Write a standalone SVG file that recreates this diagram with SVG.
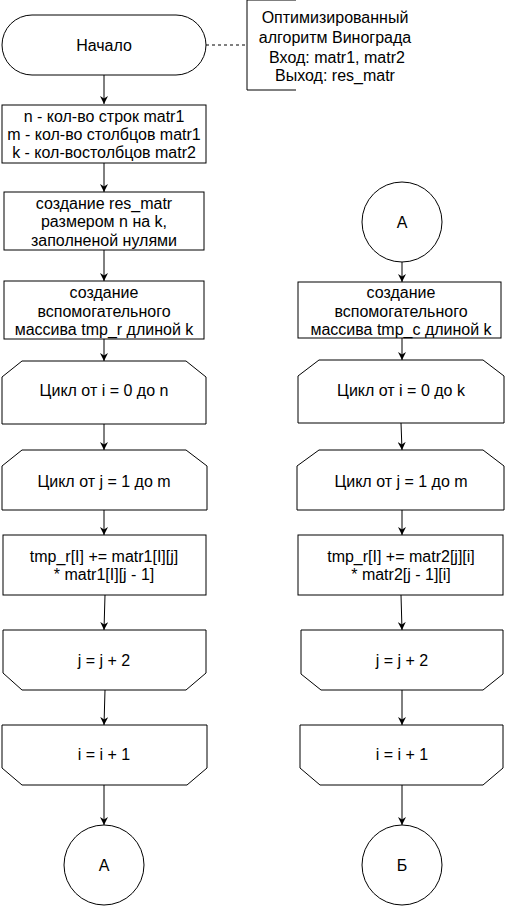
<svg xmlns="http://www.w3.org/2000/svg" width="507" height="906" viewBox="0 0 507 906">
<style>
.s{fill:#fff;stroke:#000;stroke-width:1}
.t{font-family:"Liberation Sans",Arial,sans-serif;font-size:16px;fill:#000;text-anchor:middle;dominant-baseline:central}
.c{fill:none;stroke:#000;stroke-width:1}
</style>
<defs>
<marker id="a" viewBox="0 0 10 10" refX="10" refY="5" markerWidth="8" markerHeight="8" markerUnits="userSpaceOnUse" orient="auto">
<path d="M0,0 L10,5 L0,10 L3,5 Z" fill="#000"/>
</marker>
</defs>
<rect width="507" height="906" fill="#fff"/>
<g id="connectors">
<line class="c" x1="206" y1="45" x2="247" y2="45" stroke-dasharray="3,3"/>
<line class="c" x1="104" y1="75" x2="104" y2="104" marker-end="url(#a)"/>
<line class="c" x1="104" y1="163" x2="104" y2="192" marker-end="url(#a)"/>
<line class="c" x1="104" y1="250" x2="104" y2="281" marker-end="url(#a)"/>
<line class="c" x1="104" y1="339" x2="104" y2="361" marker-end="url(#a)"/>
<line class="c" x1="104" y1="424" x2="104" y2="450" marker-end="url(#a)"/>
<line class="c" x1="104" y1="510" x2="104" y2="535" marker-end="url(#a)"/>
<line class="c" x1="105" y1="595" x2="104" y2="630" marker-end="url(#a)"/>
<line class="c" x1="105" y1="690" x2="104" y2="725" marker-end="url(#a)"/>
<line class="c" x1="104" y1="785" x2="104" y2="825" marker-end="url(#a)"/>
<line class="c" x1="402" y1="262" x2="402" y2="282" marker-end="url(#a)"/>
<line class="c" x1="402" y1="338" x2="402" y2="360" marker-end="url(#a)"/>
<line class="c" x1="401" y1="423" x2="402" y2="450" marker-end="url(#a)"/>
<line class="c" x1="402" y1="510" x2="402" y2="535" marker-end="url(#a)"/>
<line class="c" x1="401" y1="595" x2="402" y2="630" marker-end="url(#a)"/>
<line class="c" x1="402" y1="690" x2="402" y2="725" marker-end="url(#a)"/>
<line class="c" x1="402" y1="785" x2="402" y2="825" marker-end="url(#a)"/>
</g>
<g id="start">
<rect class="s" x="2" y="15" width="204" height="60" rx="30" ry="30"/>
<text class="t" x="104" y="45">Начало</text>
</g>
<g id="note">
<path class="c" d="M296,0 H247 V90 H296"/>
<text class="t" x="335" y="17">Оптимизированный</text>
<text class="t" x="335" y="37">алгоритм Винограда</text>
<text class="t" x="337" y="57">Вход: matr1, matr2</text>
<text class="t" x="335" y="75">Выход: res_matr</text>
</g>
<g id="vars">
<rect class="s" x="2" y="105" width="204" height="58"/>
<text class="t" x="104" y="116">n - кол-во строк matr1</text>
<text class="t" x="104" y="134">m - кол-во столбцов matr1</text>
<text class="t" x="104" y="152">k - кол-востолбцов matr2</text>
</g>
<g id="resmatr">
<rect class="s" x="4" y="192" width="200" height="58"/>
<text class="t" x="104" y="203">создание res_matr</text>
<text class="t" x="104" y="221">размером n на k,</text>
<text class="t" x="104" y="240">заполненой нулями</text>
</g>
<g id="tmpr">
<rect class="s" x="4" y="281" width="200" height="58"/>
<text class="t" x="104" y="292">создание</text>
<text class="t" x="104" y="311">вспомогательного</text>
<text class="t" x="104" y="329">массива tmp_r длиной k</text>
</g>
<g id="loop-i-left">
<path class="s" d="M22,361 H186 L206,377 V424 H2 V377 Z"/>
<text class="t" x="104" y="390">Цикл от i = 0 до n</text>
</g>
<g id="loop-j-left">
<path class="s" d="M22,450 H186 L207,466 V510 H2 V466 Z"/>
<text class="t" x="104" y="481">Цикл от j = 1 до m</text>
</g>
<g id="calc-left">
<rect class="s" x="3" y="535" width="203" height="60"/>
<text class="t" x="104" y="556">tmp_r[I] += matr1[I][j]</text>
<text class="t" x="104" y="574">* matr1[I][j - 1]</text>
</g>
<g id="j-left">
<path class="s" d="M3,630 H206 V673 L186,690 H22 L3,673 Z"/>
<text class="t" x="104" y="660">j = j + 2</text>
</g>
<g id="i-left">
<path class="s" d="M2,725 H207 V768 L187,785 H22 L2,768 Z"/>
<text class="t" x="104" y="754">i = i + 1</text>
</g>
<g id="conn-a-left">
<circle class="s" cx="104" cy="865" r="40"/>
<text class="t" x="104" y="865">А</text>
</g>
<g id="conn-a-right">
<circle class="s" cx="402" cy="222" r="40"/>
<text class="t" x="402" y="222">А</text>
</g>
<g id="tmpc">
<rect class="s" x="298" y="282" width="203" height="56"/>
<text class="t" x="401" y="292">создание</text>
<text class="t" x="401" y="311">вспомогательного</text>
<text class="t" x="401" y="329">массива tmp_c длиной k</text>
</g>
<g id="loop-i-right">
<path class="s" d="M319,360 H483 L504,376 V423 H298 V376 Z"/>
<text class="t" x="401" y="390">Цикл от i = 0 до k</text>
</g>
<g id="loop-j-right">
<path class="s" d="M319,450 H483 L504,466 V510 H297 V466 Z"/>
<text class="t" x="401" y="481">Цикл от j = 1 до m</text>
</g>
<g id="calc-right">
<rect class="s" x="298" y="535" width="205" height="60"/>
<text class="t" x="401" y="556">tmp_r[I] += matr2[j][i]</text>
<text class="t" x="401" y="574">* matr2[j - 1][i]</text>
</g>
<g id="j-right">
<path class="s" d="M301,630 H503 V674 L483,690 H321 L301,674 Z"/>
<text class="t" x="402" y="660">j = j + 2</text>
</g>
<g id="i-right">
<path class="s" d="M300,725 H503 V768 L483,785 H320 L300,768 Z"/>
<text class="t" x="402" y="754">i = i + 1</text>
</g>
<g id="conn-b">
<circle class="s" cx="402" cy="865" r="40"/>
<text class="t" x="402" y="865">Б</text>
</g>
</svg>
